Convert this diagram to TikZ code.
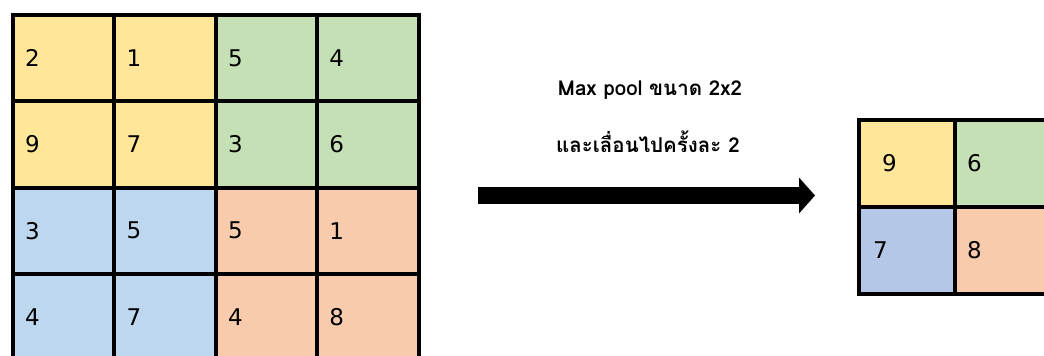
\documentclass[tikz,border=0pt]{standalone}
\usepackage{fontspec}
\setmainfont{DejaVu Sans}
\newfontfamily\thaifont[Script=Thai]{Loma}
\usetikzlibrary{arrows.meta}
\definecolor{cyel}{HTML}{FFE699}
\definecolor{cgrn}{HTML}{C5E0B4}
\definecolor{cblu}{HTML}{BDD7EE}
\definecolor{cblu2}{HTML}{B4C7E7}
\definecolor{corg}{HTML}{F8CBAD}
\tikzset{
  cell/.style={draw=black, line width=4pt, rectangle, anchor=north west,
    minimum width=101.4pt, minimum height=86.3pt, inner xsep=12pt,
    text width=77pt, align=left, font=\fontsize{23}{25}\selectfont},
  small/.style={cell, minimum width=96pt, minimum height=87pt, text width=72pt},
  lbl/.style={font=\thaifont\bfseries\fontsize{20.5}{23}\selectfont, inner sep=0pt},
  bigarrow/.style={line width=17pt, -{Triangle[length=16pt, width=35pt]}}
}
\begin{document}
\begin{tikzpicture}[x=1pt, y=-1pt]
\useasboundingbox (0,0) rectangle (1044,356);
% left grid
\node[cell, fill=cyel] (a11) at (11,13) {2};
\node[cell, fill=cyel] (a12) at (112.4,13) {1};
\node[cell, fill=cgrn] (a13) at (213.8,13) {5};
\node[cell, fill=cgrn] (a14) at (315.2,13) {4};
\node[cell, fill=cyel] (a21) at (11,99.3) {9};
\node[cell, fill=cyel] (a22) at (112.4,99.3) {7};
\node[cell, fill=cgrn] (a23) at (213.8,99.3) {3};
\node[cell, fill=cgrn] (a24) at (315.2,99.3) {6};
\node[cell, fill=cblu] (a31) at (11,185.6) {3};
\node[cell, fill=cblu] (a32) at (112.4,185.6) {5};
\node[cell, fill=corg] (a33) at (213.8,185.6) {5};
\node[cell, fill=corg] (a34) at (315.2,185.6) {1};
\node[cell, fill=cblu] (a41) at (11,271.9) {4};
\node[cell, fill=cblu] (a42) at (112.4,271.9) {7};
\node[cell, fill=corg] (a43) at (213.8,271.9) {4};
\node[cell, fill=corg] (a44) at (315.2,271.9) {8};
% right grid
\node[small, fill=cyel] (b11) at (857,118) {\hspace*{11pt}9};
\node[small, fill=cgrn] (b12) at (953,118) {6};
\node[small, fill=cblu2] (b21) at (857,205) {\hspace*{2pt}7};
\node[small, fill=corg] (b22) at (953,205) {8};
% labels
\node[lbl] (t1) at (650,90) {Max pool ขนาด 2x2};
\node[lbl] (t2) at (648,142) {และเลื่อนไปครั้งละ 2};
% arrow
\coordinate (p0) at (478,195.5);
\coordinate (p1) at (815,195.5);
\draw[bigarrow] (p0) -- (p1);
\end{tikzpicture}
\end{document}
